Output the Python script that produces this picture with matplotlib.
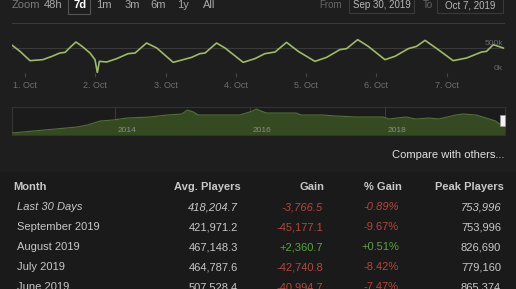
import matplotlib.pyplot as plt
from matplotlib.patches import Rectangle

W, H = 516, 289

# last 7 days, hours from 1 Oct 00:00 -> concurrent players (thousands)
hours = [-4.4, -1.7, 1.7, 6.1, 9.2, 11.9, 13.7, 15.4, 17.4, 19.5, 22.2, 23.9,
         24.7, 25.4, 27.9, 31.3, 35.2, 37.6, 41.5, 45.0, 50.6, 54.0, 56.9,
         59.7, 61.5, 65.4, 68.3, 74.5, 78.5, 81.9, 85.4, 89.3, 93.3, 99.0,
         103.0, 107.5, 109.8, 113.6, 117.2, 122.9, 126.3, 130.9, 133.7, 136.6,
         141.1, 146.2, 150.8, 155.9, 157.6, 159.9, 163.3]
players = [555, 433, 247, 267, 333, 400, 413, 513, 620, 533, 400, 267,
           10, 233, 220, 287, 387, 400, 600, 500, 213, 267, 313,
           387, 400, 600, 500, 213, 287, 387, 420, 613, 433, 233,
           313, 467, 487, 667, 533, 267, 333, 487, 533, 653,
           467, 247, 300, 420, 433, 567, 500]
day_labels = ['1. Oct', '2. Oct', '3. Oct', '4. Oct', '5. Oct', '6. Oct', '7. Oct']

# navigator (whole history)
nav_years = [2012.47, 2012.79, 2013.44, 2013.59, 2013.78, 2013.97, 2014.18, 2014.52,
             2014.77, 2014.99, 2015.07, 2015.16, 2015.23, 2015.51, 2015.85, 2016.04,
             2016.09, 2016.24, 2016.68, 2016.76, 2017.08, 2017.27, 2017.57, 2017.97,
             2018.06, 2018.31, 2018.46, 2018.65, 2018.80, 2019.05, 2019.16, 2019.35,
             2019.50, 2019.64, 2019.72, 2019.78]
nav_players = [40, 80, 160, 200, 280, 300, 340, 360,
               400, 420, 500, 460, 400, 400, 400, 480,
               520, 440, 440, 400, 400, 380, 360, 360,
               320, 360, 320, 340, 320, 400, 420, 400,
               340, 280, 200, 180]
nav_ticks = [2014, 2016, 2018]

zoom_buttons = ['48h', '7d', '1m', '3m', '6m', '1y', 'All']

columns = ['Month', 'Avg. Players', 'Gain', '% Gain', 'Peak Players']
months = ['Last 30 Days', 'September 2019', 'August 2019', 'July 2019', 'June 2019']
avg_players = ['418,204.7', '421,971.2', '467,148.3', '464,787.6', '507,528.4']
gains = ['-3,766.5', '-45,177.1', '+2,360.7', '-42,740.8', '-40,994.7']
pct_gains = ['-0.89%', '-9.67%', '+0.51%', '-8.42%', '-7.47%']
peaks = ['753,996', '753,996', '826,690', '779,160', '865,374']

BG = '#1e1e1f'
LINE = '#9dba66'
RED = '#b5473a'
GREEN = '#5aa53c'
TXT = '#c8c8c8'

plt.rcParams['font.family'] = ['Liberation Sans', 'DejaVu Sans']

fig = plt.figure(figsize=(W / 100, H / 100), dpi=100, facecolor=BG)


def fx(x):
    return x / W


def fy(y):
    return 1 - y / H


def box(x0, y0, x1, y1):
    return [fx(x0), fy(y1), fx(x1) - fx(x0), fy(y0) - fy(y1)]


# table background
fig.patches.append(Rectangle((0, 0), 1, fy(172), transform=fig.transFigure,
                             facecolor='#1a1a1a', edgecolor='none', zorder=0))

# zoom buttons row
fig.text(fx(12), fy(5), 'Zoom', color='#7a7a7a', fontsize=8, va='center')
btn_x = [53, 80, 104, 132, 158, 183, 209]
for x, lab in zip(btn_x, zoom_buttons):
    sel = lab == '7d'
    fig.text(fx(x), fy(5), lab, color='#ffffff' if sel else '#a8a8a8', fontsize=8,
             fontweight='bold' if sel else 'normal', ha='center', va='center')
fig.patches.append(Rectangle((fx(68), fy(14)), fx(90) - fx(68), fy(-1) - fy(14),
                             transform=fig.transFigure, facecolor='none',
                             edgecolor='#555555', lw=0.8))
fig.text(fx(331), fy(5), 'From', color='#666666', fontsize=7, ha='center', va='center')
fig.text(fx(428), fy(5), 'To', color='#666666', fontsize=7, ha='center', va='center')
for (x0, x1), lab in zip([(349, 414), (437, 503)], ['Sep 30, 2019', 'Oct 7, 2019']):
    fig.patches.append(Rectangle((fx(x0), fy(13)), fx(x1) - fx(x0), fy(-2) - fy(13),
                                 transform=fig.transFigure, facecolor='none',
                                 edgecolor='#3a3a3a', lw=0.8))
    fig.text(fx((x0 + x1) / 2), fy(5), lab, color='#b8b8b8', fontsize=7,
             ha='center', va='center')

# main chart
ax = fig.add_axes(box(12, 22, 505, 73))
ax.set_facecolor('none')
ax.plot(hours, players, color=LINE, lw=1.2, zorder=3)
ax.set_xlim(-4.44, 163.9)
ax.set_ylim(0, 1020)
for v in [0, 500, 1000]:
    ax.axhline(v, color='#3a3a3a', lw=0.8, zorder=1)
for s in ax.spines.values():
    s.set_visible(False)
ax.set_yticks([])
ax.set_xticks([24 * i for i in range(len(day_labels))])
ax.set_xticklabels(day_labels, color='#6f6f6f', fontsize=6.5)
ax.tick_params(axis='x', length=3, color='#444444', pad=3)
fig.text(fx(503), fy(43), '500k', color='#6a6a6a', fontsize=6, ha='right', va='center')
fig.text(fx(503), fy(69), '0k', color='#6a6a6a', fontsize=6, ha='right', va='center')

# navigator
nav = fig.add_axes(box(12, 107, 505, 135))
nav.set_facecolor('#1b1b1b')
nav.fill_between(nav_years, nav_players, 0, color='#364a21', lw=0, zorder=2)
nav.plot(nav_years, nav_players, color='#55703a', lw=0.8, zorder=3)
nav.set_xlim(2012.47, 2019.78)
nav.set_ylim(0, 560)
for yr in nav_ticks:
    nav.axvline(yr, color='#3a3a3a', lw=0.8, zorder=1)
    nav.text(yr + 0.04, 90, str(yr), color='#8a8a8a', fontsize=6, va='center', zorder=4)
nav.set_xticks([])
nav.set_yticks([])
for s in nav.spines.values():
    s.set_color('#333333')
    s.set_linewidth(0.8)
fig.patches.append(Rectangle((fx(500), fy(126)), fx(505) - fx(500), fy(115) - fy(126),
                             transform=fig.transFigure, facecolor='#f2f2f2',
                             edgecolor='#999999', lw=0.5, zorder=5))

fig.text(fx(504), fy(155), 'Compare with others...', color='#e0e0e0', fontsize=8,
         ha='right', va='center')

# table
col_right = [None, 241, 325, 402, 504]
fig.text(fx(13), fy(187), columns[0], color=TXT, fontsize=8, fontweight='bold', va='center')
for x, lab in zip(col_right[1:], columns[1:]):
    fig.text(fx(x), fy(187), lab, color=TXT, fontsize=8, fontweight='bold',
             ha='right', va='center')

for i, m in enumerate(months):
    y = 207 + 20 * i
    style = 'italic' if i == 0 else 'normal'
    fig.text(fx(17), fy(y), m, color=TXT, fontsize=8, style=style, va='center')
    fig.text(fx(238), fy(y), avg_players[i], color=TXT, fontsize=8, style=style,
             ha='right', va='center')
    c = GREEN if gains[i].startswith('+') else RED
    fig.text(fx(323), fy(y), gains[i], color=c, fontsize=8, style=style,
             ha='right', va='center')
    fig.text(fx(399), fy(y), pct_gains[i], color=c, fontsize=8, style=style,
             ha='right', va='center')
    fig.text(fx(501), fy(y), peaks[i], color=TXT, fontsize=8, style=style,
             ha='right', va='center')

fig.savefig('out.png', dpi=100, facecolor=BG)
